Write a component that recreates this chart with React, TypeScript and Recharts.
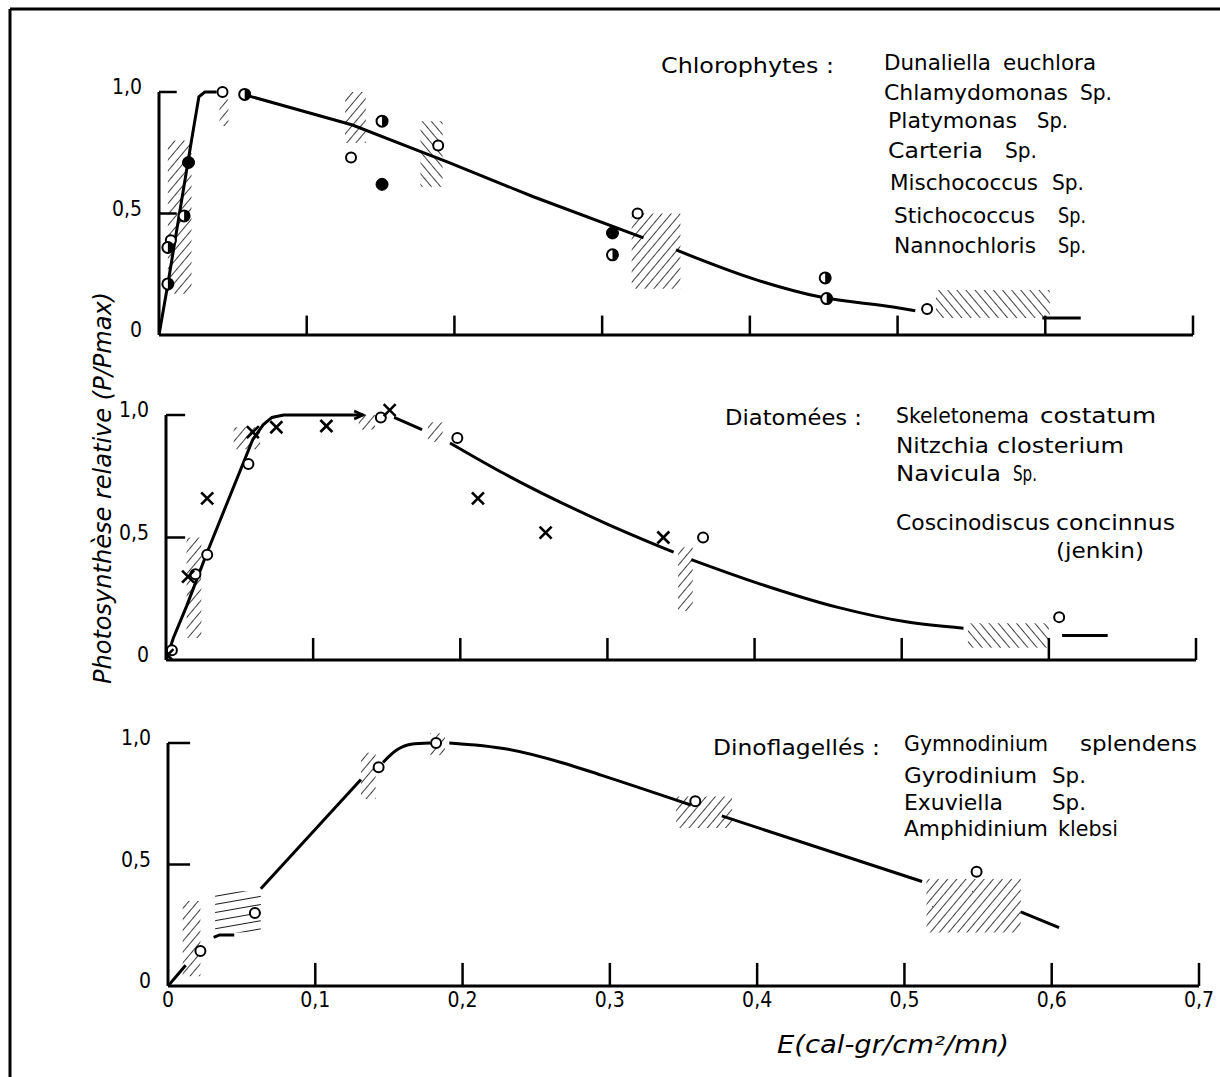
import React from 'react';
import { ComposedChart, Line, Scatter, XAxis, YAxis, ReferenceLine, ReferenceArea } from 'recharts';

// E (cal-gr/cm2/mn) vs P/Pmax
const xTicks = [0, 0.1, 0.2, 0.3, 0.4, 0.5, 0.6, 0.7];
const yTicks = [0, 0.5, 1];

// Chlorophytes
const chloroLine1 = [{e:0,p:0},{e:0.006,p:0.21},{e:0.022,p:0.8},{e:0.027,p:0.98},{e:0.031,p:1},{e:0.039,p:1}];
const chloroLine2 = [{e:0.06,p:0.985},{e:0.131,p:0.864},{e:0.175,p:0.76},{e:0.196,p:0.71},{e:0.253,p:0.57},{e:0.328,p:0.4}];
const chloroLine3 = [{e:0.35,p:0.35},{e:0.405,p:0.226},{e:0.448,p:0.156},{e:0.497,p:0.115},{e:0.512,p:0.1}];
const chloroLine4 = [{e:0.598,p:0.07},{e:0.624,p:0.07}];
const chloroOpen = [{e:0.043,p:1},{e:0.008,p:0.39},{e:0.13,p:0.73},{e:0.189,p:0.78},{e:0.324,p:0.5},{e:0.52,p:0.107}];
const chloroFilled = [{e:0.02,p:0.71},{e:0.151,p:0.62},{e:0.307,p:0.42}];
const chloroHalf = [{e:0.058,p:0.99},{e:0.017,p:0.49},{e:0.006,p:0.36},{e:0.006,p:0.21},{e:0.151,p:0.88},{e:0.307,p:0.33},{e:0.451,p:0.235},{e:0.452,p:0.15}];
const chloroHatch = [
  {x1:0.006,x2:0.022,y1:0.17,y2:0.8,k:'f'},
  {x1:0.041,x2:0.047,y1:0.86,y2:0.97,k:'f'},
  {x1:0.126,x2:0.14,y1:0.79,y2:1,k:'f'},
  {x1:0.177,x2:0.192,y1:0.61,y2:0.88,k:'b'},
  {x1:0.32,x2:0.353,y1:0.19,y2:0.5,k:'f'},
  {x1:0.526,x2:0.603,y1:0.07,y2:0.185,k:'b'},
];

// Diatomees
const diatLine1 = [{e:0,p:0},{e:0.005,p:0.09},{e:0.014,p:0.22},{e:0.028,p:0.44},{e:0.059,p:0.9},{e:0.066,p:0.96},{e:0.072,p:0.99},{e:0.08,p:1},{e:0.134,p:1}];
const diatLine2 = [{e:0.155,p:0.99},{e:0.174,p:0.94}];
const diatLine3 = [{e:0.193,p:0.886},{e:0.23,p:0.76},{e:0.298,p:0.56},{e:0.345,p:0.44}];
const diatLine4 = [{e:0.357,p:0.41},{e:0.402,p:0.314},{e:0.456,p:0.216},{e:0.504,p:0.155},{e:0.542,p:0.13}];
const diatLine5 = [{e:0.609,p:0.1},{e:0.64,p:0.1}];
const diatArrow = [{e:0.134,p:1}];
const diatOpen = [{e:0.146,p:0.99},{e:0.056,p:0.8},{e:0.028,p:0.43},{e:0.02,p:0.35},{e:0.198,p:0.906},{e:0.365,p:0.5},{e:0.607,p:0.175},{e:0.004,p:0.04}];
const diatCross = [{e:0.152,p:1.02},{e:0.059,p:0.93},{e:0.075,p:0.95},{e:0.109,p:0.955},{e:0.028,p:0.66},{e:0.015,p:0.34},{e:0.001,p:0.02},{e:0.212,p:0.66},{e:0.258,p:0.52},{e:0.338,p:0.5}];
const diatHatch = [
  {x1:0.014,x2:0.024,y1:0.09,y2:0.5,k:'f'},
  {x1:0.046,x2:0.064,y1:0.86,y2:0.95,k:'f'},
  {x1:0.131,x2:0.142,y1:0.94,y2:1,k:'f'},
  {x1:0.178,x2:0.188,y1:0.89,y2:0.97,k:'f'},
  {x1:0.348,x2:0.358,y1:0.2,y2:0.46,k:'f'},
  {x1:0.545,x2:0.6,y1:0.05,y2:0.15,k:'b'},
];

// Dinoflagelles
const dinoLine1 = [{e:0,p:0},{e:0.012,p:0.085}];
const dinoLine2 = [{e:0.031,p:0.2},{e:0.035,p:0.21},{e:0.045,p:0.21}];
const dinoLine3 = [{e:0.063,p:0.4},{e:0.131,p:0.85}];
const dinoLine4 = [{e:0.146,p:0.92},{e:0.155,p:0.97},{e:0.165,p:0.995},{e:0.178,p:1}];
const dinoLine5 = [{e:0.191,p:1},{e:0.23,p:0.975},{e:0.267,p:0.92},{e:0.294,p:0.868},{e:0.355,p:0.745}];
const dinoLine6 = [{e:0.376,p:0.7},{e:0.512,p:0.43}];
const dinoLine7 = [{e:0.579,p:0.305},{e:0.605,p:0.24}];
const dinoOpen = [{e:0.022,p:0.144},{e:0.059,p:0.3},{e:0.143,p:0.9},{e:0.182,p:1},{e:0.358,p:0.76},{e:0.549,p:0.47}];
const dinoHatch = [
  {x1:0.01,x2:0.022,y1:0.04,y2:0.35,k:'f'},
  {x1:0.032,x2:0.063,y1:0.22,y2:0.39,k:'h'},
  {x1:0.131,x2:0.141,y1:0.77,y2:0.96,k:'f'},
  {x1:0.178,x2:0.188,y1:0.95,y2:1.04,k:'f'},
  {x1:0.345,x2:0.383,y1:0.65,y2:0.78,k:'f'},
  {x1:0.515,x2:0.579,y1:0.22,y2:0.44,k:'f'},
];

// legend words: text, x, y(center), width
const legendWords: [string, number, number, number][] = [
  ['Chlorophytes :', 661, 65, 173],
  ['Dunaliella', 884, 62, 107], ['euchlora', 1003, 62, 93],
  ['Chlamydomonas', 884, 92, 184], ['Sp.', 1080, 92, 32],
  ['Platymonas', 888, 120, 129], ['Sp.', 1037, 120, 31],
  ['Carteria', 888, 150, 95], ['Sp.', 1005, 150, 32],
  ['Mischococcus', 890, 182, 148], ['Sp.', 1052, 182, 32],
  ['Stichococcus', 894, 215, 141], ['Sp.', 1058, 215, 28],
  ['Nannochloris', 894, 245, 142], ['Sp.', 1058, 245, 28],
  ['Diatomées :', 725, 417, 137],
  ['Skeletonema', 896, 415, 133], ['costatum', 1040, 415, 116],
  ['Nitzchia', 896, 445, 93], ['closterium', 997, 445, 127],
  ['Navicula', 896, 473, 105], ['Sp.', 1013, 473, 24],
  ['Coscinodiscus', 896, 522, 154], ['concinnus', 1056, 522, 119],
  ['(jenkin)', 1056, 550, 88],
  ['Dinoflagellés :', 713, 747, 167],
  ['Gymnodinium', 904, 743, 144], ['splendens', 1080, 743, 117],
  ['Gyrodinium', 904, 775, 133], ['Sp.', 1052, 775, 34],
  ['Exuviella', 904, 802, 99], ['Sp.', 1052, 802, 34],
  ['Amphidinium', 904, 828, 144], ['klebsi', 1058, 828, 60],
];

const FONT = "'DejaVu Sans Condensed', 'Liberation Sans Narrow', 'DejaVu Sans', sans-serif";
const fmt = (v: number) => (v === 0 ? '0' : v.toFixed(1).replace('.', ','));
const patId: Record<string, string> = { f: 'url(#hatchF)', b: 'url(#hatchB)', h: 'url(#hatchH)' };

const OpenDot = ({ cx, cy }: any) => <circle cx={cx} cy={cy} r={5} fill="#fff" stroke="#000" strokeWidth={2} />;
const FilledDot = ({ cx, cy }: any) => <circle cx={cx} cy={cy} r={6} fill="#000" stroke="#000" strokeWidth={1} />;
const HalfDot = ({ cx, cy }: any) => (
  <g>
    <circle cx={cx} cy={cy} r={5.5} fill="#fff" stroke="#000" strokeWidth={2} />
    <path d={`M${cx},${cy - 5.5} A5.5,5.5 0 0,1 ${cx},${cy + 5.5} Z`} fill="#000" />
  </g>
);
const Cross = ({ cx, cy }: any) => (
  <g stroke="#000" strokeWidth={2.6}>
    <line x1={cx - 6} y1={cy - 6} x2={cx + 6} y2={cy + 6} />
    <line x1={cx - 6} y1={cy + 6} x2={cx + 6} y2={cy - 6} />
  </g>
);
const Arrow = ({ cx, cy }: any) => (
  <polyline points={`${cx - 9},${cy - 4} ${cx},${cy} ${cx - 9},${cy + 4}`} fill="none" stroke="#000" strokeWidth={2.5} />
);

const tickStyle = { fontFamily: FONT, fontSize: 21 };
const YTickLabel = ({ x, y, payload }: any) => (
  <text x={x} y={y - 5} textAnchor="end" dominantBaseline="central" style={tickStyle} fill="#000">{fmt(payload.value)}</text>
);
const XTickLabel = ({ x, y, payload }: any) => (
  <text x={x} y={y} textAnchor="middle" dominantBaseline="hanging" style={tickStyle} fill="#000">{fmt(payload.value)}</text>
);

function seg(data: any[], type: any, key: string) {
  return <Line key={key} data={data} dataKey="p" type={type} stroke="#000" strokeWidth={3} dot={false} activeDot={false} isAnimationActive={false} />;
}

const Y_W = 60;
const X_H = 40;

function Panel({ top, height, originX, x07, y0, y1, yMax, tickW, tickH, lines, marks, hatch, showX }: any) {
  const ppu = y0 - y1;
  const plotTop = y0 - yMax * ppu;
  const xh = showX ? X_H : 0;
  const margin = { left: originX - Y_W, right: 1220 - x07, top: plotTop - top, bottom: top + height - y0 - xh };
  return (
    <div style={{ position: 'absolute', left: 0, top, width: 1220, height }}>
      <ComposedChart width={1220} height={height} margin={margin}>
        <XAxis type="number" dataKey="e" domain={[0, 0.7]} ticks={xTicks} allowDataOverflow height={xh} hide={!showX}
          axisLine={false} tickLine={false} tickSize={0} tickMargin={6} tick={<XTickLabel />} interval={0} />
        <YAxis type="number" dataKey="p" domain={[0, yMax]} ticks={yTicks} allowDataOverflow width={Y_W}
          axisLine={false} tickLine={false} tickSize={0} tickMargin={17} tick={<YTickLabel />} interval={0} />
        {hatch.map((h: any, i: number) => (
          <ReferenceArea key={'h' + i} x1={h.x1} x2={h.x2} y1={h.y1} y2={h.y2} fill={patId[h.k]} fillOpacity={1} stroke="none" ifOverflow="visible" />
        ))}
        <ReferenceLine segment={[{ x: 0, y: 0 }, { x: 0.7, y: 0 }]} stroke="#000" strokeWidth={3} ifOverflow="visible" />
        <ReferenceLine segment={[{ x: 0, y: 0 }, { x: 0, y: 1 }]} stroke="#000" strokeWidth={3} ifOverflow="visible" />
        {yTicks.filter((v) => v > 0).map((v) => (
          <ReferenceLine key={'yt' + v} segment={[{ x: 0, y: v }, { x: tickW, y: v }]} stroke="#000" strokeWidth={2.5} ifOverflow="visible" />
        ))}
        {xTicks.filter((v) => v > 0).map((v) => (
          <ReferenceLine key={'xt' + v} segment={[{ x: v, y: 0 }, { x: v, y: tickH }]} stroke="#000" strokeWidth={2.5} ifOverflow="visible" />
        ))}
        {lines}
        {marks}
      </ComposedChart>
    </div>
  );
}

export default function App() {
  return (
    <div style={{ position: 'absolute', left: 0, top: 0, width: 1220, height: 1077, background: '#fff', overflow: 'hidden' }}>
      <svg width={0} height={0} style={{ position: 'absolute' }}>
        <defs>
          <pattern id="hatchF" patternUnits="userSpaceOnUse" width={7} height={7} patternTransform="rotate(40)">
            <line x1={0} y1={0} x2={0} y2={7} stroke="#000" strokeWidth={1.5} />
          </pattern>
          <pattern id="hatchB" patternUnits="userSpaceOnUse" width={7} height={7} patternTransform="rotate(-40)">
            <line x1={0} y1={0} x2={0} y2={7} stroke="#000" strokeWidth={1.5} />
          </pattern>
          <pattern id="hatchH" patternUnits="userSpaceOnUse" width={8} height={8} patternTransform="rotate(80)">
            <line x1={0} y1={0} x2={0} y2={8} stroke="#000" strokeWidth={1.8} />
          </pattern>
        </defs>
      </svg>

      <Panel top={0} height={360} originX={159} x07={1193} y0={335} y1={92} yMax={1.25} tickW={0.012} tickH={0.08} hatch={chloroHatch}
        lines={[seg(chloroLine1, 'linear', 'c1'), seg(chloroLine2, 'linear', 'c2'), seg(chloroLine3, 'monotone', 'c3'), seg(chloroLine4, 'linear', 'c4')]}
        marks={[
          <Scatter key="co" data={chloroOpen} dataKey="p" shape={OpenDot} isAnimationActive={false} />,
          <Scatter key="cf" data={chloroFilled} dataKey="p" shape={FilledDot} isAnimationActive={false} />,
          <Scatter key="ch" data={chloroHalf} dataKey="p" shape={HalfDot} isAnimationActive={false} />,
        ]} />

      <Panel top={360} height={330} originX={166} x07={1196} y0={660} y1={415} yMax={1.2} tickW={0.013} tickH={0.09} hatch={diatHatch}
        lines={[seg(diatLine1, 'linear', 'd1'), seg(diatLine2, 'linear', 'd2'), seg(diatLine3, 'monotone', 'd3'), seg(diatLine4, 'monotone', 'd4'), seg(diatLine5, 'linear', 'd5')]}
        marks={[
          <Scatter key="da" data={diatArrow} dataKey="p" shape={Arrow} isAnimationActive={false} />,
          <Scatter key="do" data={diatOpen} dataKey="p" shape={OpenDot} isAnimationActive={false} />,
          <Scatter key="dx" data={diatCross} dataKey="p" shape={Cross} isAnimationActive={false} />,
        ]} />

      <Panel top={690} height={387} originX={168} x07={1199} y0={986} y1={743} yMax={1.15} tickW={0.015} tickH={0.095} hatch={dinoHatch} showX
        lines={[seg(dinoLine1, 'linear', 'n1'), seg(dinoLine2, 'linear', 'n2'), seg(dinoLine3, 'linear', 'n3'), seg(dinoLine4, 'monotone', 'n4'),
          seg(dinoLine5, 'monotone', 'n5'), seg(dinoLine6, 'linear', 'n6'), seg(dinoLine7, 'linear', 'n7')]}
        marks={[<Scatter key="no" data={dinoOpen} dataKey="p" shape={OpenDot} isAnimationActive={false} />]} />

      <svg width={1220} height={1077} style={{ position: 'absolute', left: 0, top: 0, pointerEvents: 'none' }}>
        <line x1={10} y1={9} x2={1220} y2={9} stroke="#000" strokeWidth={3} />
        <line x1={10} y1={9} x2={10} y2={1077} stroke="#000" strokeWidth={3} />
        {legendWords.map(([t, x, y, w], i) => (
          <text key={i} x={x} y={y} dominantBaseline="central" fontFamily={FONT} fontSize={22} fill="#000"
            textLength={w} lengthAdjust="spacingAndGlyphs">{t}</text>
        ))}
        <text x={893} y={1045} textAnchor="middle" dominantBaseline="central" fontFamily={FONT} fontStyle="italic" fontSize={24}
          textLength={232} lengthAdjust="spacingAndGlyphs">E(cal-gr/cm²/mn)</text>
        <text x={103} y={488} transform="rotate(-90 103 488)" textAnchor="middle" dominantBaseline="central" fontFamily={FONT}
          fontStyle="italic" fontSize={24} textLength={392} lengthAdjust="spacingAndGlyphs">Photosynthèse relative (P/Pmax)</text>
      </svg>
    </div>
  );
}
